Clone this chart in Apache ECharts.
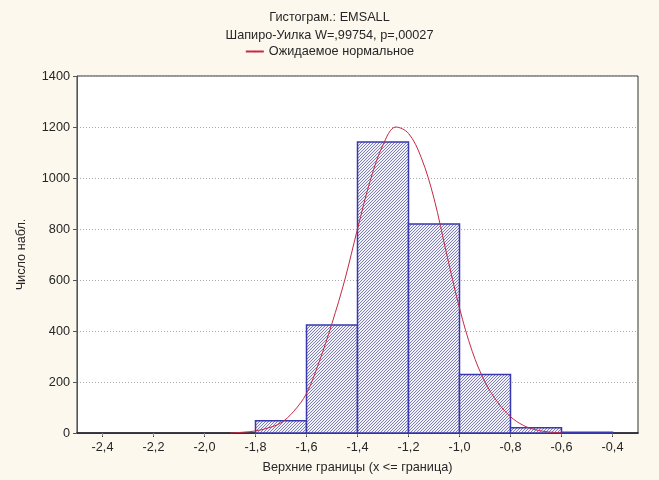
<!DOCTYPE html>
<html>
<head>
<meta charset="utf-8">
<script src="https://cdn.jsdelivr.net/npm/echarts@6/dist/echarts.min.js"></script>
<style>
  html, body { margin: 0; padding: 0; background: #fcf8ee; }
  #chart { width: 659px; height: 480px; }
</style>
</head>
<body>
<div id="chart"></div>
<script>
// Histogram bins (lower / upper bounds) and observed counts
const binLower = [-1.8, -1.6, -1.4, -1.2, -1.0, -0.8, -0.6];
const binUpper = [-1.6, -1.4, -1.2, -1.0, -0.8, -0.6, -0.4];
const binCounts = [48, 424, 1141, 820, 229, 21, 3];

// Expected normal curve (x, expected count)
const curveX = [-1.90, -1.85, -1.80, -1.75, -1.70, -1.65, -1.60, -1.55, -1.50, -1.45,
                -1.40, -1.35, -1.30, -1.25, -1.20, -1.15, -1.10, -1.05, -1.00, -0.95,
                -0.90, -0.85, -0.80, -0.75, -0.70, -0.65, -0.60];
const curveY = [0, 3, 8, 20, 40, 85, 155, 280, 430, 600,
                800, 990, 1130, 1200, 1175, 1080, 920, 700, 490, 320,
                200, 120, 64, 30, 12, 4, 1];

// Axis tick labels
const xTicks = [-2.4, -2.2, -2.0, -1.8, -1.6, -1.4, -1.2, -1.0, -0.8, -0.6, -0.4];
const yTicks = [0, 200, 400, 600, 800, 1000, 1200, 1400];

const titleLines = ['Гистограм.: EMSALL', 'Шапиро-Уилка W=,99754, p=,00027'];
const legendLabel = 'Ожидаемое нормальное';
const xName = 'Верхние границы (x <= граница)';
const yName = 'Число набл.';

// Fine diagonal hatch fill for the bars
function makeHatch() {
  const c = document.createElement('canvas');
  c.width = 3; c.height = 3;
  const g = c.getContext('2d');
  g.fillStyle = '#f2f2fa';
  g.fillRect(0, 0, 3, 3);
  g.strokeStyle = '#555596';
  g.lineWidth = 0.75;
  g.beginPath();
  g.moveTo(-1, 4); g.lineTo(4, -1);
  g.moveTo(-1, 1); g.lineTo(1, -1);
  g.moveTo(2, 4); g.lineTo(4, 2);
  g.stroke();
  return c;
}
const hatch = { image: makeHatch(), repeat: 'repeat' };

const FONT = 'Liberation Sans, Arial, sans-serif';
const TEXT = '#262626';
const FS = 12.7;
const fmt = v => v.toFixed(1).replace('.', ',');

const barData = binCounts.map((v, i) => [binLower[i], binUpper[i], v]);
const curveData = curveX.map((x, i) => [x, curveY[i]]);

const chart = echarts.init(document.getElementById('chart'), null, { renderer: 'canvas' });
chart.setOption({
  backgroundColor: '#fcf8ee',
  animation: false,
  title: {
    text: titleLines.join('\n'),
    left: 'center',
    top: 3,
    textStyle: { fontFamily: FONT, fontSize: FS, fontWeight: 'normal', color: TEXT, lineHeight: 18 }
  },
  legend: {
    data: [legendLabel],
    top: 40,
    left: 'center',
    itemWidth: 18,
    itemHeight: 2,
    itemGap: 8,
    textStyle: { fontFamily: FONT, fontSize: FS, color: TEXT }
  },
  grid: {
    left: 77, right: 21, top: 76, bottom: 47,
    show: true, backgroundColor: '#ffffff', borderColor: '#333', borderWidth: 1
  },
  xAxis: [{
    type: 'value',
    min: -2.5, max: -0.3,
    name: xName,
    nameLocation: 'middle',
    nameGap: 28,
    nameTextStyle: { fontFamily: FONT, fontSize: FS, color: TEXT },
    axisLine: { show: true, onZero: false, lineStyle: { color: '#1a1a2e', width: 1.5 } },
    axisTick: { show: true, length: 4, customValues: xTicks, lineStyle: { color: '#333' } },
    axisLabel: { customValues: xTicks, formatter: fmt, fontFamily: FONT, fontSize: FS, color: TEXT, margin: 8 },
    splitLine: { show: false }
  }, {
    type: 'value',
    position: 'top',
    min: -2.5, max: -0.3,
    axisLine: { show: true, lineStyle: { color: '#333' } },
    axisTick: { show: true, inside: true, length: 3, customValues: xTicks, lineStyle: { color: '#888' } },
    axisLabel: { show: false },
    splitLine: { show: false }
  }],
  yAxis: {
    type: 'value',
    min: 0, max: 1400, interval: 200,
    name: yName,
    nameLocation: 'middle',
    nameGap: 49,
    nameTextStyle: { fontFamily: FONT, fontSize: FS, color: TEXT },
    axisLine: { show: true, lineStyle: { color: '#555' } },
    axisTick: { show: true, length: 4, lineStyle: { color: '#555' } },
    axisLabel: { fontFamily: FONT, fontSize: FS, color: TEXT, margin: 7,
                 customValues: yTicks, formatter: v => String(v) },
    splitLine: { show: true, lineStyle: { color: '#aaa', type: [1, 2], width: 1 } }
  },
  series: [{
    type: 'custom',
    name: 'bins',
    xAxisIndex: 0,
    data: barData,
    encode: { x: [0, 1], y: 2 },
    renderItem: function (params, api) {
      const p0 = api.coord([api.value(0), 0]);
      const p1 = api.coord([api.value(1), api.value(2)]);
      return {
        type: 'rect',
        shape: { x: p0[0], y: p1[1], width: p1[0] - p0[0], height: p0[1] - p1[1] },
        style: { fill: hatch, stroke: '#3838b0', lineWidth: 1.5 }
      };
    },
    z: 2
  }, {
    type: 'line',
    name: legendLabel,
    xAxisIndex: 0,
    data: curveData,
    smooth: 0.35,
    symbol: 'none',
    lineStyle: { color: '#c42a44', width: 1 },
    itemStyle: { color: '#c42a44' },
    z: 3
  }]
});
</script>
</body>
</html>
